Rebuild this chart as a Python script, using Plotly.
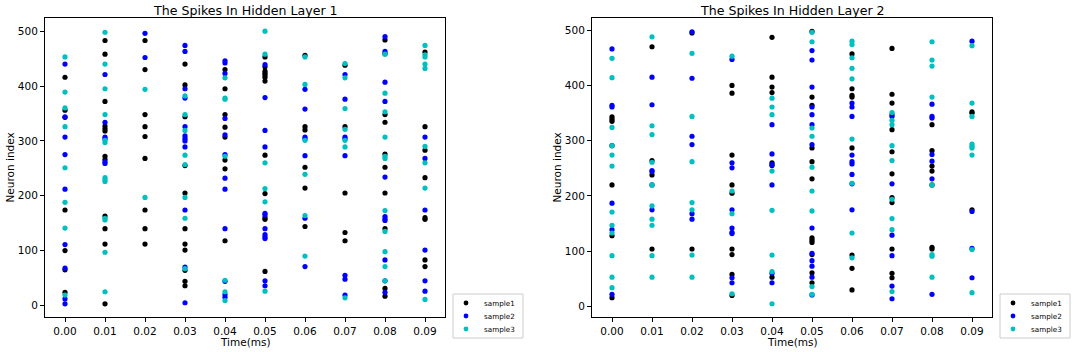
import plotly.graph_objects as go

W, H = 1074, 352

times = [0.00, 0.01, 0.02, 0.03, 0.04, 0.05, 0.06, 0.07, 0.08, 0.09]
x_ticks = [0.00, 0.01, 0.02, 0.03, 0.04, 0.05, 0.06, 0.07, 0.08, 0.09]
y_ticks = [0, 100, 200, 300, 400, 500]
sample_names = ["sample1", "sample2", "sample3"]
sample_colors = ["#000000", "#0000ff", "#00bfbf"]
titles = ["The Spikes In Hidden Layer 1", "The Spikes In Hidden Layer 2"]

# neuron indices that spiked at each time step (one inner list per time step)
layer1_sample1 = [
    [416, 356, 343, 174, 100, 65, 24],
    [483, 458, 372, 327, 322, 318, 272, 266, 163, 140, 112, 3],
    [483, 430, 348, 326, 308, 268, 174, 140, 112],
    [440, 402, 344, 255, 205, 140, 112, 101, 64, 44, 36],
    [430, 395, 348, 325, 307, 265, 249, 118],
    [453, 435, 427, 423, 420, 416, 409, 274, 204, 160, 157, 62],
    [456, 326, 320, 252, 214, 144],
    [438, 326, 205, 133, 118],
    [484, 459, 348, 334, 276, 252, 205, 140, 31, 17],
    [462, 326, 283, 233, 160, 157, 83, 71],
]
layer1_sample2 = [
    [440, 344, 307, 275, 212, 111, 68, 12, 3],
    [421, 334, 307, 304, 262, 259],
    [496, 452],
    [474, 463, 395, 378, 326, 309, 304, 300, 289, 174, 70, 5],
    [446, 442, 423, 341, 311, 275, 232, 212, 140, 44, 20, 15],
    [439, 379, 319, 289, 168, 165, 140, 129, 125, 122, 45, 36],
    [394, 358, 307, 304, 273, 159, 71],
    [421, 376, 307, 304, 273, 55, 48, 19],
    [490, 463, 407, 372, 234, 162, 158, 155, 83, 45, 24],
    [307, 268, 174, 101, 45, 26],
]
layer1_sample3 = [
    [453, 389, 360, 326, 251, 188, 141, 19],
    [498, 440, 395, 348, 301, 297, 233, 229, 226, 159, 156, 97, 25],
    [394, 197],
    [382, 348, 319, 274, 257, 197, 159, 67],
    [415, 378, 376, 272, 46, 25, 9],
    [500, 458, 260, 213, 189, 26],
    [453, 403, 301, 239, 164, 90],
    [441, 415, 359, 321, 301, 289, 14],
    [458, 387, 353, 307, 272, 268, 173, 135, 98, 71, 45],
    [474, 457, 453, 440, 432, 290, 260, 214, 11],
]
layer2_sample1 = [
    [343, 339, 335, 291, 220, 128, 16],
    [470, 264, 238, 104],
    [495, 104],
    [400, 386, 274, 220, 205, 104, 94, 58, 20],
    [487, 415, 397, 387, 260, 255, 53],
    [498, 379, 364, 287, 262, 231, 124, 120, 116, 94, 61, 43],
    [457, 394, 382, 379, 287, 93, 69, 30],
    [467, 384, 368, 320, 280, 240, 197, 188, 104, 60, 52],
    [329, 282, 254, 245, 220, 107, 104],
    [352, 350, 175],
]
layer2_sample2 = [
    [466, 364, 361, 187, 139, 22],
    [415, 365, 246, 244, 220, 175],
    [497, 413, 308, 293, 168, 158],
    [447, 260, 251, 175, 142, 134, 132, 52, 43],
    [329, 276, 257, 220, 60, 43],
    [463, 446, 397, 361, 347, 329, 293, 142, 96, 83, 73, 53, 21],
    [368, 361, 344, 274, 262, 258, 239, 222, 175],
    [347, 344, 222, 129, 92, 37, 14],
    [366, 344, 341, 275, 263, 231, 22],
    [480, 172, 105, 52],
]
layer2_sample3 = [
    [449, 414, 324, 291, 274, 254, 171, 147, 133, 92, 53, 34],
    [488, 327, 311, 261, 220, 182, 158, 147, 92, 53],
    [458, 344, 262, 188, 175, 93, 53],
    [453, 209, 168, 23],
    [377, 361, 347, 245, 174, 93, 63, 5],
    [496, 479, 323, 308, 252, 209, 173, 36, 22],
    [480, 474, 450, 431, 412, 303, 223, 133, 88],
    [351, 337, 329, 291, 264, 194, 159, 139, 27],
    [479, 446, 435, 379, 220, 94, 91, 53],
    [472, 368, 344, 294, 290, 287, 274, 103, 25],
]

layers = [
    [layer1_sample1, layer1_sample2, layer1_sample3],
    [layer2_sample1, layer2_sample2, layer2_sample3],
]

FONT = "DejaVu Sans"


def px_x(p):
    return p / W


def px_y(p):
    return 1 - p / H


# plot-area pixel boxes (left, right, top, bottom)
boxes = [(45, 445, 18, 317), (592, 992, 18, 317)]
y_ranges = [[-21, 524], [-19, 522]]

fig = go.Figure()

for li, series in enumerate(layers):
    xa = "x" if li == 0 else "x2"
    ya = "y" if li == 0 else "y2"
    for si, per_time in enumerate(series):
        xs, ys = [], []
        for t, neurons in zip(times, per_time):
            for n in neurons:
                xs.append(t)
                ys.append(n)
        fig.add_trace(go.Scatter(
            x=xs, y=ys, mode="markers", name=sample_names[si],
            marker=dict(color=sample_colors[si], size=5.2, line=dict(width=0)),
            xaxis=xa, yaxis=ya, showlegend=False,
        ))

axis_common = dict(
    showgrid=False, zeroline=False, showline=True, mirror=True,
    linecolor="black", linewidth=1, ticks="outside", ticklen=4,
    tickwidth=1, tickcolor="black",
    tickfont=dict(family=FONT, size=10.5, color="black"),
)

annotations = []
shapes = []
for li in range(2):
    l, r, t, b = boxes[li]
    sfx = "" if li == 0 else "2"
    fig.layout["xaxis" + sfx] = dict(
        axis_common, domain=[px_x(l), px_x(r)], range=[-0.005, 0.095],
        tickvals=x_ticks, tickformat=".2f", anchor="y" + sfx,
    )
    fig.layout["yaxis" + sfx] = dict(
        axis_common, domain=[px_y(b), px_y(t)], range=y_ranges[li],
        tickvals=y_ticks, anchor="x" + sfx,
    )
    cx = (l + r) / 2
    annotations.append(dict(
        text=titles[li], x=px_x(cx), y=px_y(10), xref="paper", yref="paper",
        showarrow=False, xanchor="center", yanchor="middle",
        font=dict(family=FONT, size=12.6, color="black"),
    ))
    annotations.append(dict(
        text="Time(ms)", x=px_x(cx), y=px_y(342), xref="paper", yref="paper",
        showarrow=False, xanchor="center", yanchor="middle",
        font=dict(family=FONT, size=10.5, color="black"),
    ))
    annotations.append(dict(
        text="Neuron index", x=px_x(l - 36), y=px_y((t + b) / 2),
        xref="paper", yref="paper", showarrow=False, textangle=-90,
        xanchor="center", yanchor="middle",
        font=dict(family=FONT, size=10.5, color="black"),
    ))
    # legend box
    lx0 = r + 8
    lx1 = lx0 + 70
    shapes.append(dict(
        type="rect", xref="paper", yref="paper",
        x0=px_x(lx0), x1=px_x(lx1), y0=px_y(338), y1=px_y(294),
        line=dict(color="#cccccc", width=1), fillcolor="white",
    ))
    for si in range(3):
        iy = 303 + si * 13
        mx = lx0 + 13
        shapes.append(dict(
            type="circle", xref="paper", yref="paper",
            x0=px_x(mx - 2.4), x1=px_x(mx + 2.4),
            y0=px_y(iy + 2.4), y1=px_y(iy - 2.4),
            fillcolor=sample_colors[si], line=dict(width=0),
        ))
        annotations.append(dict(
            text=sample_names[si], x=px_x(lx0 + 29), y=px_y(iy),
            xref="paper", yref="paper", showarrow=False,
            xanchor="left", yanchor="middle",
            font=dict(family=FONT, size=7.2, color="black"),
        ))

fig.update_layout(
    width=W, height=H, autosize=False,
    margin=dict(l=0, r=0, t=0, b=0),
    paper_bgcolor="white", plot_bgcolor="white",
    annotations=annotations, shapes=shapes,
    showlegend=False,
    font=dict(family=FONT, color="black"),
)

fig.write_html(
    "out.html",
    config={"displayModeBar": False},
    post_script="document.body.style.margin='0px';document.body.style.overflow='hidden';",
)
